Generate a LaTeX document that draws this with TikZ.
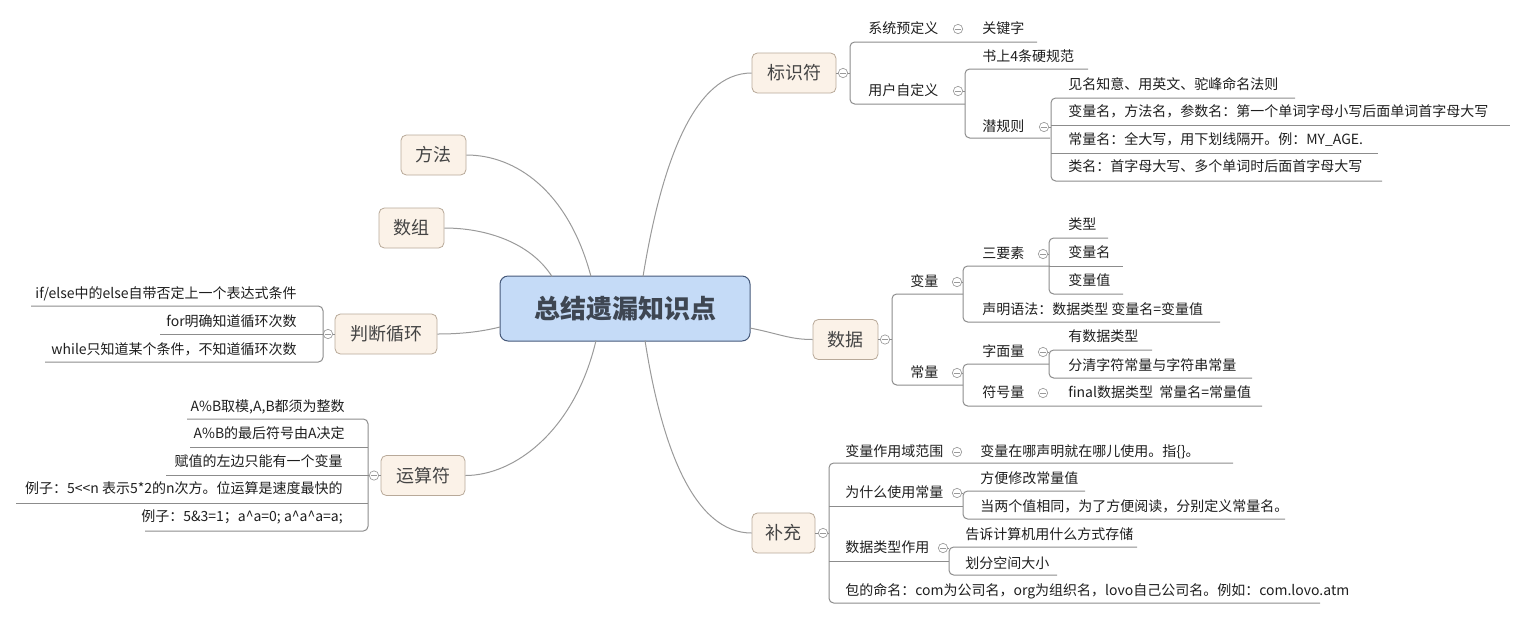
\documentclass[tikz,border=0pt]{standalone}
\usepackage{fontspec}
\newfontfamily\cjk{Noto Sans CJK SC}
\definecolor{lncol}{HTML}{8C8C8C}
\definecolor{cvcol}{HTML}{9A9A9A}
\definecolor{txcol}{HTML}{1E1E1E}
\definecolor{brtext}{HTML}{444444}
\definecolor{roottext}{HTML}{3E4652}
\definecolor{brfill}{HTML}{FBF2E8}
\definecolor{brdcol}{HTML}{B8A999}
\definecolor{rootfill}{HTML}{C5DBF7}
\definecolor{rootdraw}{HTML}{46597A}
\definecolor{icol}{HTML}{9A9A9A}
\begin{document}
\begin{tikzpicture}[x=0.75pt,y=-0.75pt,
  ln/.style={draw=lncol, line width=0.75pt},
  rln/.style={draw=lncol, line width=0.75pt, rounded corners=3.5pt},
  cv/.style={draw=cvcol, line width=0.75pt},
  tx/.style={inner sep=0pt, text height=0.86em, text depth=0.14em, font=\cjk\fontsize{10.5}{12}\selectfont, text=txcol},
  br/.style={draw=brdcol, fill=brfill, rounded corners=4pt, line width=0.6pt, font=\cjk\fontsize{13.5}{16}\selectfont, text=brtext, minimum height=30pt, inner sep=0pt},
  col/.style={circle, draw=icol, line width=0.5pt, minimum size=7pt, inner sep=0pt, fill=white,
    path picture={\draw[icol, line width=0.5pt] ([xshift=-2pt]path picture bounding box.center) -- ([xshift=2pt]path picture bounding box.center);}}
]
\useasboundingbox (0,0) rectangle (1527,619);

% ---------- root and branches ----------
\node[draw=rootdraw, fill=rootfill, rounded corners=6pt, line width=0.75pt, minimum width=187.5pt, minimum height=48.75pt, font=\cjk\bfseries\fontsize{19.5}{22}\selectfont, text=roottext] (root) at (625,308.5) {总结遗漏知识点};

\node[br, minimum width=63pt] (b1) at (794,73) {标识符};
\node[br, minimum width=48.75pt] (b2) at (845.5,339.5) {数据};
\node[br, minimum width=47.25pt] (b3) at (783.5,533) {补充};
\node[br, minimum width=48.75pt] (b4) at (433.5,155) {方法};
\node[br, minimum width=48.75pt] (b5) at (411.5,228) {数组};
\node[br, minimum width=76.5pt] (b6) at (386,334) {判断循环};
\node[br, minimum width=63pt] (b7) at (423,475.5) {运算符};

\coordinate (r1) at (643,276.5);
\coordinate (r2) at (750,328);
\coordinate (r3) at (645,340.5);
\coordinate (r4) at (591,276.5);
\coordinate (r5) at (552,276.5);
\coordinate (r6) at (500,327);
\coordinate (r7) at (596,340.5);

\draw[cv] (r1) .. controls (662,160) and (695,73) .. (b1.west);
\draw[cv] (r2) .. controls (780,334) and (790,339.5) .. (b2.west);
\draw[cv] (r3) .. controls (662,450) and (695,533) .. (b3.west);
\draw[cv] (r4) .. controls (568,190) and (515,155) .. (b4.east);
\draw[cv] (r5) .. controls (530,242) and (485,228) .. (b5.east);
\draw[cv] (r6) .. controls (480,332) and (460,334) .. (b6.east);
\draw[cv] (r7) .. controls (575,430) and (515,475.5) .. (b7.east);

% ---------- collapse icons ----------
\node[col] (i1) at (843,73) {};
\node[col] (i2) at (885,339.5) {};
\node[col] (i3) at (823,533) {};
\node[col] (i6) at (328,334) {};
\node[col] (i7) at (374,475.5) {};
\node[col] (ia) at (958,29) {};
\node[col] (ib) at (958,91) {};
\node[col] (ic) at (1044,127) {};
\node[col] (id) at (957,282) {};
\node[col] (ie) at (1043,254) {};
\node[col] (if) at (957,373) {};
\node[col] (ig) at (1043,352) {};
\node[col] (ih) at (1043,393) {};
\node[col] (ii) at (957,452) {};
\node[col] (ij) at (957,493) {};
\node[col] (ik) at (943,548) {};

% ---------- 标识符 ----------
\draw[ln] (b1.east) -- (i1.west);
\draw[ln] (i1.east) -- (850,73);
\draw[rln] (1037,42) -- (850,42) -- (850,104) -- (965,104);
\node[tx, anchor=west] (t11) at (868,29) {系统预定义};
\node[tx, anchor=west] (t12) at (982,29) {关键字};
\node[tx, anchor=west] (t13) at (868,91) {用户自定义};
\draw[ln] (ib.east) -- (965,91);
\draw[rln] (1088,69) -- (965,69) -- (965,138) -- (1050,138);
\node[tx, anchor=west] (t14) at (982,57) {书上4条硬规范};
\node[tx, anchor=west] (t15) at (982,127) {潜规则};
\draw[ln] (ic.east) -- (1051,127);
\draw[rln] (1295,98) -- (1051,98) -- (1051,181) -- (1382,181);
\draw[ln] (1051,125) -- (1510,125);
\draw[ln] (1051,153) -- (1378,153);
\node[tx, anchor=west] (t16) at (1068,85) {见名知意、用英文、驼峰命名法则};
\node[tx, anchor=west] (t17) at (1068,112) {变量名，方法名，参数名：第一个单词字母小写后面单词首字母大写};
\node[tx, anchor=west] (t18) at (1068,140) {常量名：全大写，用下划线隔开。例：MY\_AGE.};
\node[tx, anchor=west] (t19) at (1068,167) {类名：首字母大写、多个单词时后面首字母大写};

% ---------- 数据 ----------
\draw[ln] (b2.east) -- (i2.west);
\draw[ln] (i2.east) -- (892,339.5);
\draw[rln] (963,294) -- (892,294) -- (892,385) -- (963,385);
\node[tx, anchor=west] (t21) at (910,282) {变量};
\draw[ln] (id.east) -- (963,282);
\draw[rln] (1050,266) -- (963,266) -- (963,322) -- (1220,322);
\node[tx, anchor=west] (t22) at (982,254) {三要素};
\draw[ln] (ie.east) -- (1049,254);
\draw[rln] (1108,238) -- (1049,238) -- (1049,294) -- (1123,294);
\draw[ln] (1049,266) -- (1123,266);
\node[tx, anchor=west] (t23) at (1068,225) {类型};
\node[tx, anchor=west] (t24) at (1068,253) {变量名};
\node[tx, anchor=west] (t25) at (1068,281) {变量值};
\node[tx, anchor=west] (t26) at (982,310) {声明语法：数据类型 变量名=变量值};
\node[tx, anchor=west] (t27) at (910,373) {常量};
\draw[ln] (if.east) -- (963,373);
\draw[rln] (1049,364) -- (963,364) -- (963,406) -- (1262,406);
\node[tx, anchor=west] (t28) at (982,352) {字面量};
\draw[ln] (ig.east) -- (1049,352);
\draw[rln] (1152,350) -- (1049,350) -- (1049,378) -- (1252,378);
\node[tx, anchor=west] (t29) at (1068,337) {有数据类型};
\node[tx, anchor=west] (t2a) at (1068,366) {分清字符常量与字符串常量};
\node[tx, anchor=west] (t2b) at (982,393) {符号量};
\node[tx, anchor=west] (t2c) at (1068,393) {final数据类型\ \ 常量名=常量值};

% ---------- 补充 ----------
\draw[ln] (b3.east) -- (i3.west);
\draw[ln] (i3.east) -- (829,533);
\draw[rln] (1233,463) -- (829,463) -- (829,603) -- (1320,603);
\draw[ln] (829,506) -- (963,506);
\draw[ln] (829,561) -- (949,561);
\node[tx, anchor=west] (t31) at (845,452) {变量作用域范围};
\node[tx, anchor=west] (t32) at (980,452) {变量在哪声明就在哪儿使用。指\{\}。};
\node[tx, anchor=west] (t33) at (845,493) {为什么使用常量};
\draw[ln] (ij.east) -- (963,493);
\draw[rln] (1085,491) -- (963,491) -- (963,519) -- (1285,519);
\node[tx, anchor=west] (t34) at (980,479) {方便修改常量值};
\node[tx, anchor=west] (t35) at (980,507) {当两个值相同，为了方便阅读，分别定义常量名。};
\node[tx, anchor=west] (t36) at (845,548) {数据类型作用};
\draw[ln] (ik.east) -- (949,548);
\draw[rln] (1137,547) -- (949,547) -- (949,575) -- (1057,575);
\node[tx, anchor=west] (t37) at (965,535) {告诉计算机用什么方式存储};
\node[tx, anchor=west] (t38) at (965,564) {划分空间大小};
\node[tx, anchor=west] (t39) at (845,591) {包的命名：com为公司名，org为组织名，lovo自己公司名。例如：com.lovo.atm};

% ---------- 判断循环 ----------
\draw[ln] (b6.west) -- (i6.east);
\draw[ln] (i6.west) -- (323,334);
\draw[rln] (31,306) -- (323,306) -- (323,362) -- (45,362);
\draw[ln] (160,334) -- (323,334);
\node[tx, anchor=east] (t61) at (297,294) {if/else中的else自带否定上一个表达式条件};
\node[tx, anchor=east] (t62) at (297,322) {for明确知道循环次数};
\node[tx, anchor=east] (t63) at (297,350) {while只知道某个条件，不知道循环次数};

% ---------- 运算符 ----------
\draw[ln] (b7.west) -- (i7.east);
\draw[ln] (i7.west) -- (368,475.5);
\draw[rln] (187,419) -- (368,419) -- (368,531) -- (145,531);
\draw[ln] (190,447) -- (368,447);
\draw[ln] (166,475) -- (368,475);
\draw[ln] (16,503) -- (368,503);
\node[tx, anchor=east] (t71) at (345,407) {A\%B取模,A,B都须为整数};
\node[tx, anchor=east] (t72) at (345,434) {A\%B的最后符号由A决定};
\node[tx, anchor=east] (t73) at (343,462) {赋值的左边只能有一个变量};
\node[tx, anchor=east] (t74) at (343,489) {例子：5<<n 表示5*2的n次方。位运算是速度最快的};
\node[tx, anchor=east] (t75) at (343,517) {例子：5\&3=1；a\textasciicircum a=0; a\textasciicircum a\textasciicircum a=a;};
\end{tikzpicture}
\end{document}
